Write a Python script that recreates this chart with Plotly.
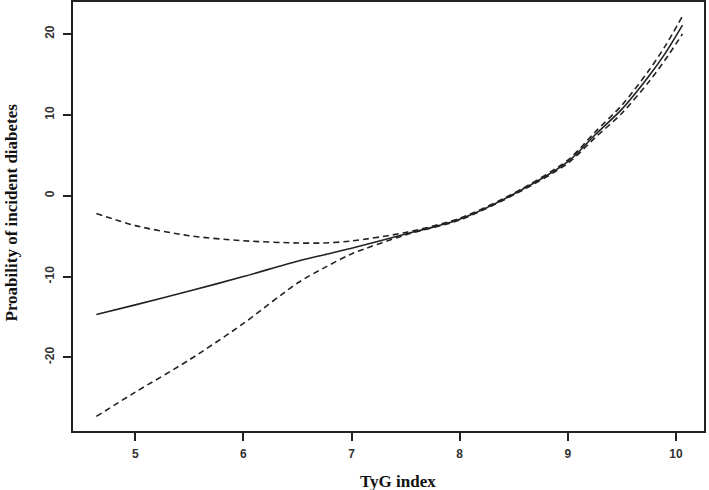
import plotly.graph_objects as go

tyg = [4.64, 5.0, 5.5, 6.0, 6.5, 6.75, 7.0, 7.5, 8.0, 8.5, 9.0, 9.25, 9.5, 9.75, 9.9, 10.06]
center = [-14.7, -13.5, -11.8, -10.0, -8.1, -7.3, -6.5, -4.75, -2.9, 0.2, 4.2, 7.5, 10.7, 14.8, 17.6, 21.1]
upper = [-2.2, -3.7, -4.95, -5.57, -5.85, -5.85, -5.6, -4.55, -2.8, 0.3, 4.4, 7.85, 11.2, 15.5, 18.5, 22.2]
lower = [-27.3, -24.3, -20.3, -15.8, -10.8, -8.9, -7.2, -4.85, -3.0, 0.1, 4.0, 7.15, 10.2, 14.1, 16.8, 20.0]

xticks = [5, 6, 7, 8, 9, 10]
yticks = [-20, -10, 0, 10, 20]
ytick_labels = ["-20", "-10", "0", "10", "20"]

line_col = "#222222"
fig = go.Figure()
for ys, dash in [(upper, "6px,4px"), (lower, "6px,4px"), (center, "solid")]:
    fig.add_trace(go.Scatter(x=tyg, y=ys, mode="lines",
                             line=dict(color=line_col, width=1.6, dash=dash, shape="spline", smoothing=0.8),
                             showlegend=False, hoverinfo="skip"))

axis_common = dict(showline=True, mirror=True, linecolor="#222222", linewidth=1.5,
                   ticks="outside", ticklen=8, tickwidth=1.5, tickcolor="#222222",
                   showgrid=False, zeroline=False, automargin=False,
                   tickfont=dict(family="Liberation Sans, Arial", size=12, color="#333333", weight="bold"))

fig.update_layout(
    width=709, height=490,
    margin=dict(l=73, r=5, t=2, b=59),
    plot_bgcolor="white", paper_bgcolor="white",
    xaxis=dict(range=[4.424, 10.259], tickvals=xticks, ticklabelstandoff=3, **axis_common),
    yaxis=dict(range=[-29.1, 23.95], tickvals=yticks, ticktext=ytick_labels, tickangle=-90,
               ticklabelstandoff=4, **axis_common),
    annotations=[
        dict(text="<b>TyG index</b>", xref="paper", yref="paper", x=(398 - 73) / 631, y=(431 - 481) / 429,
             xanchor="center", yanchor="middle", showarrow=False,
             font=dict(family="Liberation Serif, Times New Roman", size=17, color="#111111")),
        dict(text="<b>Proability of incident diabetes</b>", xref="paper", yref="paper",
             x=(11 - 73) / 631, y=(431 - 212.5) / 429, xanchor="center", yanchor="middle", textangle=-90,
             showarrow=False,
             font=dict(family="Liberation Serif, Times New Roman", size=17, color="#111111")),
    ],
)

fig.write_html("out.html", config={"displayModeBar": False},
               post_script="document.body.style.margin='0';")
